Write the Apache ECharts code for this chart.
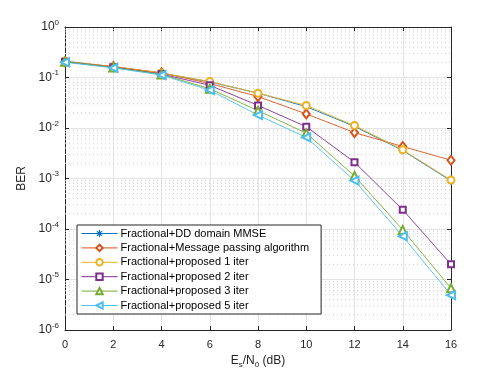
<!DOCTYPE html>
<html>
<head>
<meta charset="utf-8">
<script src="https://cdn.jsdelivr.net/npm/echarts@6/dist/echarts.min.js"></script>
<style>
  html, body { margin: 0; padding: 0; background: #fff; }
  #chart { width: 498px; height: 374px; }
</style>
</head>
<body>
<div id="chart"></div>
<script>
var snr = [0, 2, 4, 6, 8, 10, 12, 14, 16];
var berMmse = [0.21, 0.163, 0.122, 0.082, 0.049, 0.0265, 0.0108, 0.0036, 0.0009];
var berMp   = [0.205, 0.165, 0.124, 0.076, 0.042, 0.019, 0.0081, 0.0043, 0.0023];
var berIt1  = [0.21, 0.164, 0.123, 0.083, 0.049, 0.028, 0.0112, 0.0037, 0.00093];
var berIt2  = [0.205, 0.16, 0.117, 0.07, 0.028, 0.0106, 0.0021, 0.00024, 2.0e-5];
var berIt3  = [0.205, 0.158, 0.115, 0.06, 0.022, 0.0079, 0.00112, 9.6e-5, 6.7e-6];
var berIt5  = [0.2, 0.155, 0.112, 0.056, 0.018, 0.0065, 0.00091, 7.2e-5, 4.9e-6];
var names = ["Fractional+DD domain MMSE", "Fractional+Message passing algorithm",
    "Fractional+proposed 1 iter", "Fractional+proposed 2 iter",
    "Fractional+proposed 3 iter", "Fractional+proposed 5 iter"];
var yDecades = [-6, -5, -4, -3, -2, -1, 0];

var FONT = "Liberation Sans";
var asterisk = "path://M9.4,0 L10.6,0 L10.6,20 L9.4,20 Z M0,9.4 L20,9.4 L20,10.6 L0,10.6 Z " +
    "M2.9,3.7 L3.7,2.9 L17.1,16.3 L16.3,17.1 Z M16.3,2.9 L17.1,3.7 L3.7,17.1 L2.9,16.3 Z";

function pairs(ys) {
    return snr.map(function(x, i) { return [x, ys[i]]; });
}

// dotted minor grid at 2..9 of every decade
var minorVals = [];
yDecades.slice(0, -1).forEach(function(e) {
    for (var k = 2; k <= 9; k++) minorVals.push(k * Math.pow(10, e));
});

var minorSeries = minorVals.map(function(v) {
    return {
        type: "line",
        data: [[snr[0], v], [snr[snr.length - 1], v]],
        symbol: "none",
        silent: true,
        z: 1,
        lineStyle: { color: "#cfcfcf", width: 1, type: [1, 3] },
        emphasis: { disabled: true }
    };
});

function mkSeries(name, data, color, symbol, size, rotate) {
    return {
        name: name,
        type: "line",
        data: pairs(data),
        symbol: symbol,
        symbolSize: size,
        symbolRotate: rotate || 0,
        showAllSymbol: true,
        z: 3,
        lineStyle: { color: color, width: 0.9 },
        itemStyle: { color: color, borderColor: color, borderWidth: 0.9 },
        emphasis: { disabled: true }
    };
}

var chart = echarts.init(document.getElementById("chart"));
var option = {
    animation: false,
    textStyle: { fontFamily: FONT },
    grid: { left: 65, right: 47, top: 27, bottom: 44, show: false },
    legend: {
        data: names,
        orient: "vertical",
        left: 77,
        top: 225,
        width: 224,
        backgroundColor: "#fff",
        borderColor: "#262626",
        borderWidth: 1,
        borderRadius: 0,
        padding: [3, 12, 3, 4],
        itemWidth: 36,
        itemHeight: 8,
        itemGap: 3.4,
        lineStyle: { width: 1 },
        itemStyle: { borderWidth: 1 },
        textStyle: { fontFamily: FONT, fontSize: 11, color: "#000", padding: [0, 0, 0, -2] }
    },
    xAxis: [{
        type: "value",
        min: 0,
        max: 16,
        interval: 2,
        name: "E{sub|s}/N{sub|0} (dB)",
        nameLocation: "middle",
        nameGap: 23,
        nameTextStyle: {
            fontFamily: FONT, fontSize: 12, color: "#262626",
            rich: { sub: { fontFamily: FONT, fontSize: 8, color: "#262626", padding: [8, 0, 0, 0] } }
        },
        axisLine: { onZero: false, lineStyle: { color: "#262626", width: 1 } },
        axisTick: { inside: true, length: 4, lineStyle: { color: "#262626" } },
        axisLabel: { fontFamily: FONT, fontSize: 11, color: "#262626", margin: 9 },
        splitLine: { show: true, lineStyle: { color: "#e3e3e3", width: 1 } }
    }, {
        type: "value",
        position: "top",
        min: 0,
        max: 16,
        interval: 2,
        axisLine: { show: true, onZero: false, lineStyle: { color: "#262626", width: 1 } },
        axisTick: { inside: true, length: 4, lineStyle: { color: "#262626" } },
        axisLabel: { show: false },
        splitLine: { show: false }
    }],
    yAxis: [{
        type: "log",
        logBase: 10,
        min: 1e-6,
        max: 1,
        interval: 1,
        name: "BER",
        nameLocation: "middle",
        nameGap: 29,
        nameTextStyle: { fontFamily: FONT, fontSize: 12, color: "#262626" },
        axisLine: { show: true, onZero: false, lineStyle: { color: "#262626", width: 1 } },
        axisTick: { show: true, inside: true, length: 4, lineStyle: { color: "#262626" } },
        axisLabel: {
            fontFamily: FONT, fontSize: 11, color: "#262626", margin: 6,
            formatter: function(v) {
                var e = Math.round(Math.log10(v));
                return "{b|10}{s|" + e + "}";
            },
            rich: {
                b: { fontFamily: FONT, fontSize: 12, color: "#262626" },
                s: { fontFamily: FONT, fontSize: 8, color: "#262626", padding: [0, 0, 9, 0] }
            }
        },
        splitLine: { show: true, lineStyle: { color: "#e3e3e3", width: 1 } }
    }, {
        type: "log",
        logBase: 10,
        min: 1e-6,
        max: 1,
        interval: 1,
        position: "right",
        axisLine: { show: true, onZero: false, lineStyle: { color: "#262626", width: 1 } },
        axisTick: { show: true, inside: true, length: 4, lineStyle: { color: "#262626" } },
        axisLabel: { show: false },
        splitLine: { show: false }
    }],
    series: minorSeries.concat([
        mkSeries(names[0], berMmse, "#0072BD", asterisk, 7),
        mkSeries(names[1], berMp, "#D95319", "emptyDiamond", [7, 9]),
        mkSeries(names[2], berIt1, "#EDB120", "emptyCircle", 7),
        mkSeries(names[3], berIt2, "#7E2F8E", "emptyRect", 6),
        mkSeries(names[4], berIt3, "#77AC30", "emptyTriangle", 8),
        mkSeries(names[5], berIt5, "#4DBEEE", "emptyTriangle", 8, 90)
    ])
};
chart.setOption(option);
</script>
</body>
</html>
